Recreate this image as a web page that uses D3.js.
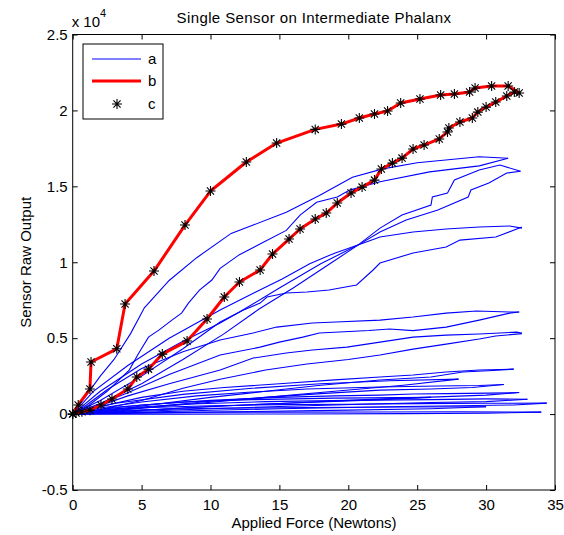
<!DOCTYPE html>
<html>
<head>
<meta charset="utf-8">
<script src="https://cdn.jsdelivr.net/npm/d3@7"></script>
<style>
  body { margin: 0; background: #fff; }
  text { font-family: "Liberation Sans", Arial, sans-serif; fill: #000; }
</style>
</head>
<body>
<div id="chart"></div>
<script>
/* Single sensor hysteresis plot, MATLAB style */

const xTicks = [0, 5, 10, 15, 20, 25, 30, 35];
const yTicks = [-5000, 0, 5000, 10000, 15000, 20000, 25000];
const yTickLabels = ["-0.5", "0", "0.5", "1", "1.5", "2", "2.5"];
const legendLabels = ["a", "b", "c"];

// series a: blue loading / unloading loops [force, raw output]
const loop1Up = [[0,0],[0.8,1000],[2,2500],[3,3600],[4.2,5300],[5.2,7000],[7,8800],[9,10300],[11.5,11900],[13.1,12450],[15.5,13300],[17.9,14400],[20.3,15600],[22.5,16150],[25,16550],[29.5,16950],[31.6,16850]];
const loop1Down = [[31.6,16850],[29.5,16350],[25.9,15950],[22.3,15300],[20.1,14750],[19.2,14300],[17.7,13950],[16.5,13100],[15.5,12100],[13.8,11300],[12.1,10500],[10.7,9600],[10.1,8830],[9.2,8170],[8.4,7310],[7.9,6650],[7.2,6190],[6.25,5530],[5.5,5070],[4.8,4020],[4.1,2900],[2.5,1500],[1.2,600],[0,0]];
const loop2Up = [[0,0],[1.5,1500],[4,3200],[7,5000],[10.7,6850],[12.1,7500],[15.2,8900],[17.2,9900],[19,10600],[20.7,11130],[22.3,12250],[23.9,13110],[26.0,13770],[26.1,14300],[27.2,14560],[27.7,15420],[29.5,16070],[31,16400],[32.5,15990]];
const loop2Down = [[32.5,15990],[31.5,15880],[30.2,15220],[28.9,14760],[28.7,14300],[26.5,13440],[24.2,12780],[22.3,11990],[20.7,11130],[18.5,9800],[16,8300],[13.5,6900],[11,5300],[8,3600],[5,2000],[2,700],[0,0]];
const loop3Up = [[0,0],[2,1500],[5,3300],[8,4800],[10.7,6000],[12.1,6720],[15,8300],[18,9900],[20.7,11130],[22.3,11660],[24.7,11990],[27.1,12190],[29.5,12320],[31.7,12390],[32.6,12250]];
const loop3Down = [[32.6,12320],[30.7,11660],[28.1,11460],[27.1,11000],[24.7,10610],[22.3,9950],[21.8,9490],[20.6,8500],[18.6,8170],[17,8040],[15.5,7970],[14.1,7710],[13.6,7310],[12.4,6850],[10.7,6060],[8,4300],[5,2500],[2,900],[0,0]];
const loop4Up = [[0,0],[1,600],[2.5,1600],[5,3000],[8,4100],[10.7,4880],[13.1,5340],[14.8,5730],[17.4,6000],[19.1,6060],[22.3,6190],[24.7,6390],[27.1,6650],[29.3,6790],[31.7,6720],[32.4,6720]];
const loop4Down = [[32.4,6720],[31.7,6650],[29.5,6190],[27.1,5730],[24.7,5500],[23,5600],[21.5,5500],[17.9,5340],[16.7,5070],[15,4740],[13.6,4410],[10.7,3890],[7,2600],[4,1400],[1.5,500],[0,0]];
const loop5Up = [[0,0],[1.5,400],[4,1200],[7,2000],[10.7,2900],[13.1,3690],[15.5,4020],[17.4,4220],[19.9,4410],[22.3,4740],[24.7,5070],[27.1,5200],[29.5,5270],[32.2,5400],[32.6,5340]];
const loop5Down = [[32.6,5300],[30.7,5140],[29.5,4940],[27.1,4610],[24.7,4280],[22.3,3890],[20,3600],[17,3300],[14,2900],[10.7,2300],[8,1700],[5,900],[2,300],[0,0]];
const loop6Up = [[0,0],[2,500],[5,1100],[8,1500],[11,1750],[15,2000],[19,2250],[22.3,2440],[24.7,2570],[27.1,2770],[29.5,2900],[32,2960]];
const loop6Down = [[32,2960],[30.5,2870],[28.3,2770],[26,2440],[22.3,2240],[18,1900],[14,1500],[10,1100],[6,650],[3,300],[0,0]];
const loop7Up = [[0,0],[2,400],[5,800],[9,1200],[13,1450],[17,1650],[22.3,1780],[26.5,1850],[29.5,1880],[31.3,1950]];
const loop7Down = [[31.3,1950],[29,1750],[26,1650],[22.3,1580],[18,1350],[14,1100],[10,850],[6,500],[3,250],[0,0]];
const loop8Up = [[0,0],[2,300],[5,600],[10,900],[15,1100],[19,1200],[22.3,1250],[24.7,1320],[27.1,1350],[31.7,1400],[32.4,1420]];
const loop8Down = [[32.4,1420],[30,1250],[27,1150],[24,1050],[20,900],[15,700],[10,500],[5,250],[2,100],[0,0]];
const loop9Up = [[0,0],[2,250],[5,420],[10,550],[15,620],[20,650],[25,690],[30,710],[34.4,720]];
const loop9Down = [[34.4,720],[32,600],[28,550],[24,500],[20,430],[15,350],[10,250],[5,120],[0,0]];
const loop10Up = [[0,0],[3,80],[8,120],[15,130],[22,140],[28,150],[34,130]];
const loop10Down = [[34,130],[30,60],[24,30],[16,10],[8,0],[0,0]];
const loop11Up = [[0,0],[3,700],[8,1300],[13,1700],[18,2000],[23,2200],[28,2300]];
const loop11Down = [[28,2300],[24,1900],[19,1500],[14,1100],[9,700],[4,300],[0,0]];
const loop12Up = [[0,0],[3,450],[8,800],[13,950],[19,1050],[26,1100]];
const loop12Down = [[26,1100],[21,900],[15,700],[9,450],[4,200],[0,0]];
const loop13Up = [[0,0],[3,350],[8,650],[14,820],[20,900],[26,950],[30,1000],[33,980]];
const loop13Down = [[33,980],[30,820],[26,760],[21,650],[15,500],[9,320],[4,150],[0,0]];
const loop14Up = [[0,0],[4,250],[10,380],[17,430],[24,470],[30,480]];
const loop14Down = [[30,480],[26,350],[20,260],[13,170],[6,80],[0,0]];

// series b / c: red loop with star markers
const redLoop = [[0,0],[0.4,600],[1.25,1650],[1.33,3430],[3.2,4300],[3.8,7250],[5.9,9420],[8.15,12450],[10.0,14690],[12.6,16600],[14.8,17850],[17.6,18750],[19.5,19100],[20.8,19500],[21.9,19760],[22.85,19960],[23.8,20490],[25.2,20750],[26.7,21020],[27.7,21080],[28.8,21210],[29.2,21480],[30.4,21610],[31.6,21610],[32.4,21150],[32.05,21210],[31.5,20950],[30.7,20550],[30.0,20220],[29.4,19890],[29.0,19500],[28.1,19240],[27.3,18840],[27.2,18580],[26.6,18120],[25.5,17720],[24.7,17460],[23.9,16860],[23.2,16530],[22.4,16140],[21.9,15410],[21.0,14950],[20.2,14560],[19.2,13900],[18.4,13240],[17.6,12850],[16.5,12190],[15.7,11530],[14.5,10540],[13.6,9490],[12.1,8700],[11.0,7710],[9.75,6260],[8.3,4810],[6.5,3950],[5.5,2960],[4.65,2440],[4.0,1650],[2.85,990],[2.05,600],[1.25,260],[0.67,150],[0.24,70],[0,0]];

const blueLoops = [loop1Up, loop1Down, loop2Up, loop2Down, loop3Up, loop3Down, loop4Up, loop4Down,
    loop5Up, loop5Down, loop6Up, loop6Down, loop7Up, loop7Down, loop8Up, loop8Down,
    loop9Up, loop9Down, loop10Up, loop10Down, loop11Up, loop11Down, loop12Up, loop12Down,
    loop13Up, loop13Down, loop14Up, loop14Down];

const width = 564, height = 535;
const margin = { top: 34.5, right: 9, bottom: 45, left: 72.7 };
const fontSize = "15px";

const svg = d3.select("#chart").append("svg")
    .attr("width", width)
    .attr("height", height);

const x = d3.scaleLinear().domain([0, 35]).range([margin.left, width - margin.right]);
const y = d3.scaleLinear().domain([-5000, 25000]).range([height - margin.bottom, margin.top]);

const line = d3.line().x(d => x(d[0])).y(d => y(d[1]));

/* data lines */
svg.append("g")
    .selectAll("path")
    .data(blueLoops)
    .join("path")
    .attr("d", line)
    .attr("fill", "none")
    .attr("stroke", "#0000ff")
    .attr("stroke-width", 1.1);

svg.append("path")
    .attr("d", line(redLoop))
    .attr("fill", "none")
    .attr("stroke", "#ff0000")
    .attr("stroke-width", 3)
    .attr("stroke-linejoin", "round");

// MATLAB '*' marker: plus and cross together
const r = 5, rd = 3.6;
const starPath = `M${-r},0H${r}M0,${-r}V${r}M${-rd},${-rd}L${rd},${rd}M${-rd},${rd}L${rd},${-rd}`;
svg.append("g")
    .selectAll("path")
    .data(redLoop)
    .join("path")
    .attr("transform", d => `translate(${x(d[0])},${y(d[1])})`)
    .attr("d", starPath)
    .attr("fill", "none")
    .attr("stroke", "#000")
    .attr("stroke-width", 1.1);

/* axes, ticks pointing in */
svg.append("g")
    .attr("transform", `translate(0,${y(-5000)})`)
    .call(d3.axisBottom(x).tickValues(xTicks).tickSizeInner(-5).tickSizeOuter(0).tickPadding(9));
svg.append("g")
    .attr("transform", `translate(${x(0)},0)`)
    .call(d3.axisLeft(y).tickValues(yTicks).tickFormat((d, i) => yTickLabels[i]).tickSizeInner(-5).tickSizeOuter(0).tickPadding(5));
svg.append("g")
    .attr("transform", `translate(0,${y(25000)})`)
    .call(d3.axisTop(x).tickValues(xTicks).tickSizeInner(-5).tickSizeOuter(0).tickFormat(""));
svg.append("g")
    .attr("transform", `translate(${x(35)},0)`)
    .call(d3.axisRight(y).tickValues(yTicks).tickSizeInner(-5).tickSizeOuter(0).tickFormat(""));

svg.selectAll(".domain").remove();
svg.selectAll(".tick line").attr("stroke", "#000");
svg.selectAll(".tick text").style("font-size", fontSize).style("font-family", "Liberation Sans, Arial, sans-serif");

svg.append("rect")
    .attr("x", x(0)).attr("y", y(25000))
    .attr("width", x(35) - x(0)).attr("height", y(-5000) - y(25000))
    .attr("fill", "none").attr("stroke", "#000").attr("stroke-width", 1);

/* exponent label */
const expo = svg.append("text").attr("x", x(0) - 1).attr("y", 27).style("font-size", fontSize);
expo.append("tspan").text("x 10");
expo.append("tspan").attr("dy", -10).style("font-size", "11px").text("4");

/* titles */
svg.append("text")
    .attr("x", 314).attr("y", 23)
    .attr("text-anchor", "middle").style("font-size", fontSize).style("letter-spacing", "0.4px")
    .text("Single Sensor on Intermediate Phalanx");
svg.append("text")
    .attr("x", 314).attr("y", 528)
    .attr("text-anchor", "middle").style("font-size", fontSize)
    .text("Applied Force (Newtons)");
svg.append("text")
    .attr("transform", `translate(31,${(y(25000) + y(-5000)) / 2}) rotate(-90)`)
    .attr("text-anchor", "middle").style("font-size", fontSize)
    .text("Sensor Raw Output");

/* legend */
const lg = svg.append("g").attr("transform", "translate(83,44)");
lg.append("rect").attr("width", 80).attr("height", 75)
    .attr("fill", "#fff").attr("stroke", "#000").attr("stroke-width", 1);
const rows = [15, 37, 60];
lg.append("line").attr("x1", 9).attr("x2", 58).attr("y1", rows[0]).attr("y2", rows[0])
    .attr("stroke", "#0000ff").attr("stroke-width", 1.1);
lg.append("line").attr("x1", 9).attr("x2", 58).attr("y1", rows[1]).attr("y2", rows[1])
    .attr("stroke", "#ff0000").attr("stroke-width", 3);
lg.append("path").attr("transform", `translate(34,${rows[2]})`).attr("d", starPath)
    .attr("fill", "none").attr("stroke", "#000").attr("stroke-width", 1.1);
lg.selectAll("text.lab")
    .data(legendLabels)
    .join("text")
    .attr("class", "lab")
    .attr("x", 65)
    .attr("y", (d, i) => rows[i] + 5)
    .style("font-size", fontSize)
    .text(d => d);
</script>
</body>
</html>
